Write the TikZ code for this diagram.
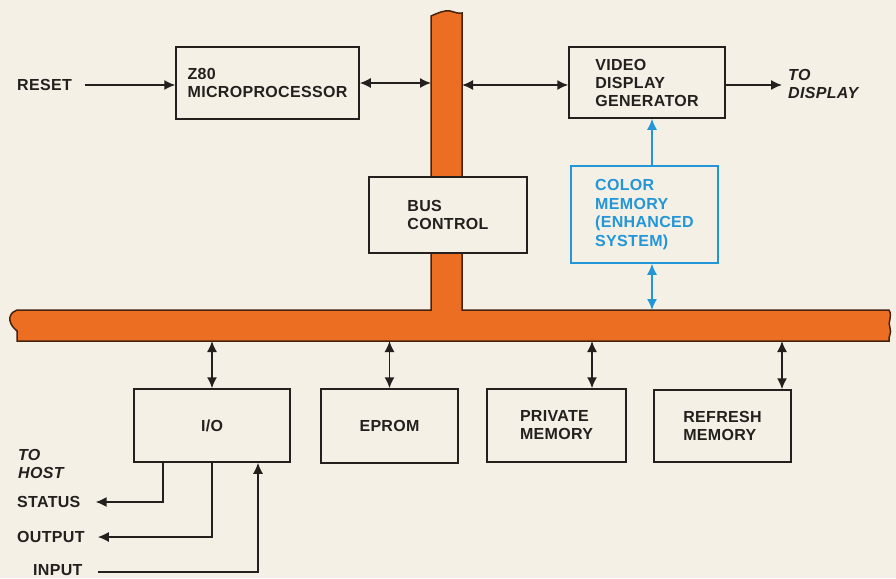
\documentclass[tikz,border=0pt]{standalone}
\usepackage{fontspec}
\setmainfont{Liberation Sans}[LetterSpace=2]
\usetikzlibrary{arrows.meta}
\definecolor{bg}{RGB}{245,240,230}
\definecolor{busorange}{RGB}{236,110,34}
\definecolor{busedge}{RGB}{70,35,15}
\definecolor{ink}{RGB}{35,32,30}
\definecolor{cblue}{RGB}{35,150,215}
\tikzset{
  tip/.tip={Latex[length=11pt,width=10pt]},
  blk/.style={draw=ink, line width=1.5pt, fill=bg, align=left, font=\bfseries\fontsize{16}{18}\selectfont, text=ink, inner sep=0pt},
  lbl/.style={font=\bfseries\fontsize{16}{18}\selectfont, text=ink, inner sep=0pt, anchor=west},
  ilbl/.style={font=\bfseries\itshape\fontsize{16}{18}\selectfont, text=ink, inner sep=0pt, anchor=west, align=left},
  arr/.style={draw=ink, line width=1.5pt, -tip},
  darr/.style={draw=ink, line width=1.5pt, tip-tip},
}
\begin{document}
\begin{tikzpicture}[x=1pt,y=-1pt]
\useasboundingbox (0,0) rectangle (896,578);
\fill[bg] (0,0) rectangle (896,578);
% bus
\filldraw[fill=busorange, draw=busedge, line width=1.5pt]
  (431,16) .. controls (438,13) and (444,10) .. (450,11) .. controls (455,12) and (458,14) .. (462,13)
  -- (462,310) -- (889,310) .. controls (893,317) and (887,322) .. (890,328) .. controls (892,333) and (888,337) .. (889,341)
  -- (17,341) -- (17,331) .. controls (12,327) and (9,322) .. (10,317) .. controls (11,313) and (14,311) .. (17,310)
  -- (431,310) -- cycle;
\coordinate (vbl) at (431,0);
\coordinate (vbr) at (462,0);
\coordinate (hbt) at (0,310);
\coordinate (hbb) at (0,341);
% boxes
\node[blk, minimum width=183pt, minimum height=72pt] (z80) at (267.5,83) {Z80\\MICROPROCESSOR};
\node[blk, minimum width=156pt, minimum height=71pt] (vid) at (647,82.5) {VIDEO\\DISPLAY\\GENERATOR};
\node[blk, minimum width=158pt, minimum height=76pt] (bus) at (448,215) {BUS\\CONTROL};
\node[blk, draw=cblue, text=cblue, minimum width=147pt, minimum height=97pt, font=\bfseries\fontsize{16}{18.7}\selectfont] (cm) at (644.5,214.5) {COLOR\\MEMORY\\(ENHANCED\\SYSTEM)};
\node[blk, minimum width=156pt, minimum height=73pt] (io) at (212,425.5) {I/O};
\node[blk, minimum width=137pt, minimum height=74pt] (eprom) at (389.5,426) {EPROM};
\node[blk, minimum width=139pt, minimum height=73pt] (priv) at (556.5,425.5) {PRIVATE\\MEMORY};
\node[blk, minimum width=137pt, minimum height=72pt] (refr) at (722.5,426) {REFRESH\\MEMORY};
% labels
\node[lbl] (reset) at (17,85) {RESET};
\node[ilbl] (todisp) at (788,84) {TO\\DISPLAY};
\node[ilbl] (tohost) at (18,464) {TO\\HOST};
\node[lbl] (status) at (17,502) {STATUS};
\node[lbl] (output) at (17,537) {OUTPUT};
\node[lbl] (input) at (33,570) {INPUT};
% connectors top
\draw[arr] ([xshift=13pt]reset.east) -- (reset.east -| z80.west);
\draw[darr] (z80.east) -- (z80.east -| vbl);
\draw[darr] (vbr |- 0,85) -- (vid.west |- 0,85);
\draw[arr] (vid.east |- 0,85) -- ([xshift=-6pt]todisp.west |- 0,85);
\coordinate (ca) at (652,0);
\draw[draw=cblue, line width=1.5pt, -tip] (ca |- cm.north) -- (ca |- vid.south);
\draw[draw=cblue, line width=1.5pt, tip-tip] (ca |- cm.south) -- (ca |- hbt);
% connectors bottom
\coordinate (pa) at (592,0);
\coordinate (ra) at (782,0);
\draw[darr] (io.north |- hbb) -- (io.north);
\draw[darr] (eprom.north |- hbb) -- (eprom.north);
\draw[darr] (pa |- hbb) -- (pa |- priv.north);
\draw[darr] (ra |- hbb) -- (ra |- refr.north);
% I/O lines
\coordinate (sa) at (163,0);
\coordinate (oa) at (212,0);
\coordinate (ia) at (258,0);
\draw[arr] (sa |- io.south) |- ([xshift=15pt]status.east);
\draw[arr] (oa |- io.south) |- ([xshift=13pt]output.east);
\draw[arr] ([xshift=15pt]input.east |- 0,572) -| (ia |- io.south);
\end{tikzpicture}
\end{document}
